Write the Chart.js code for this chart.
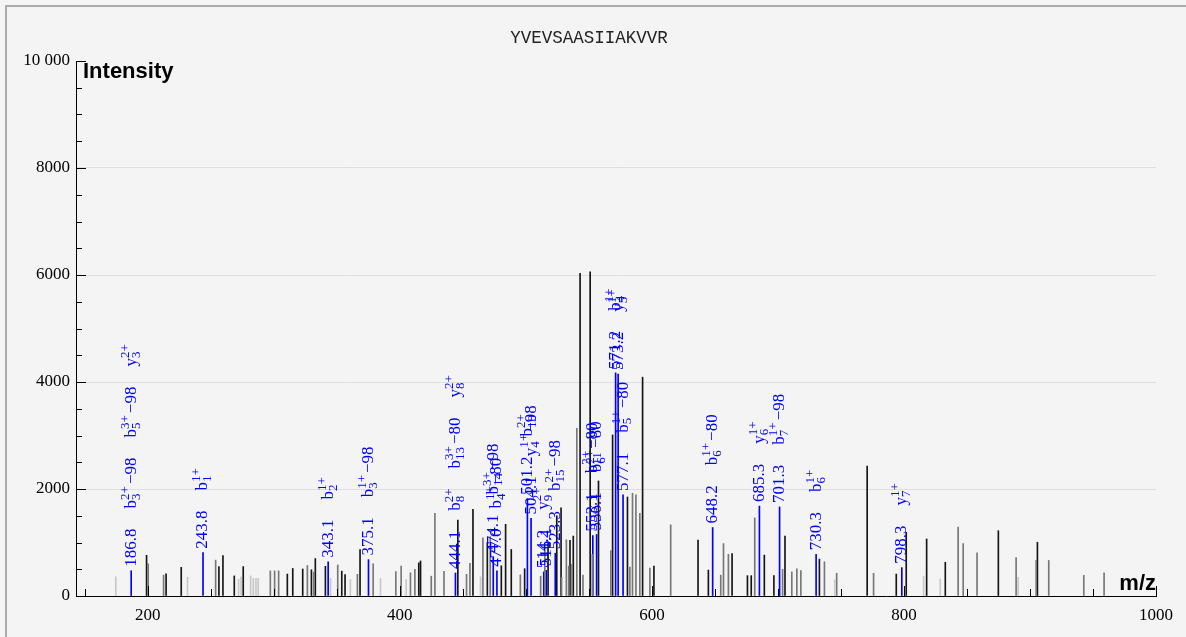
<!DOCTYPE html>
<html lang="en">
<head>
  <meta charset="UTF-8" />
  <title>YVEVSAASIIAKVVR - espectro</title>
  <style>
    html, body { margin: 0; padding: 0; background: #f4f4f4; overflow: hidden; }
    .moldura { position: absolute; left: 5px; top: 5px; width: 1300px; height: 700px;
      border-left: 2px solid #ababab; border-top: 2px solid #ababab; }
    #espectro { position: absolute; left: 0; top: 0; }
  </style>
</head>
<body>
  <div class="moldura"></div>
  <canvas id="espectro" width="1186" height="637"></canvas>

  <script src="https://cdn.jsdelivr.net/npm/chart.js@4.4.0/dist/chart.umd.min.js"></script>
  <script>
  const peptide = 'YVEVSAASIIAKVVR';
  const xTicks = [200, 400, 600, 800, 1000];
  const yTicks = [0, 2000, 4000, 6000, 8000, 10000];

  // picos nao anotados, por tom de cinza
  const darkMz = [199.0, 214.5, 226.5, 256.4, 259.6, 268.6, 275.7, 310.7, 315.0, 322.9, 329.8, 332.9, 340.9,
    353.9, 356.5, 368.4, 415.0, 416.4, 446.0, 458.0, 469.4, 480.5, 483.9, 488.4, 499.0, 517.6, 524.5, 527.9,
    535.0, 537.6, 543.0, 551.0, 557.6, 568.8, 580.6, 592.6, 601.6, 636.6, 644.8, 663.6, 675.8, 678.8, 689.2,
    696.8, 705.6, 732.9, 770.8, 793.9, 801.8, 818.0, 832.8, 874.9, 905.9];
  const darkInt = [760, 415, 535, 550, 755, 375, 550, 410, 515, 505, 490, 700, 555,
    465, 400, 870, 620, 655, 1420, 1620, 1000, 565, 1340, 870, 510, 1000, 1500, 1650,
    1040, 1120, 6030, 6060, 2150, 3010, 1850, 4090, 560, 1045, 485, 795, 380, 380, 765,
    380, 1120, 690, 2430, 410, 1190, 1065, 630, 1220, 1005];

  const grayMz = [200.3, 212.5, 253.8, 297.2, 300.6, 303.8, 326.6, 331.6, 350.7, 366.3, 378.8, 396.8, 401.0,
    408.4, 411.9, 424.9, 427.8, 435.0, 452.9, 455.6, 465.9, 471.7, 495.6, 511.7, 515.0, 528.3, 532.1, 534.0,
    536.6, 540.4, 545.3, 552.7, 567.4, 582.5, 584.6, 587.3, 590.4, 598.4, 614.9, 654.6, 656.8, 660.7, 681.6,
    703.7, 711.0, 715.0, 718.2, 736.9, 746.6, 775.9, 843.0, 847.0, 858.0, 889.0, 904.9, 914.9, 942.7, 958.8];
  const grayInt = [600, 390, 670, 470, 470, 470, 570, 445, 580, 405, 600, 455, 560,
    435, 500, 370, 1545, 460, 405, 610, 1085, 1110, 395, 370, 860, 350, 1050, 560,
    590, 3135, 390, 780, 850, 540, 1920, 1890, 1545, 520, 1330, 390, 980, 780, 1460,
    500, 450, 510, 475, 640, 425, 425, 1290, 980, 805, 720, 665, 665, 385, 435];

  const lightMz = [174.6, 231.5, 272.0, 274.0, 281.6, 283.7, 285.8, 287.6, 345.0, 360.7, 384.6, 405.0, 464.0,
    745.2, 815.6, 828.8, 890.6];
  const lightInt = [360, 350, 315, 360, 375, 330, 330, 330, 330, 310, 330, 310, 360,
    300, 370, 320, 350];

  // picos anotados (azul)
  const matchedMz = [186.8, 243.8, 343.1, 375.1, 444.1, 474.1, 477.0, 501.2, 504.1, 514.2, 516.1, 523.3,
    553.1, 556.1, 571.2, 573.2, 577.1, 648.2, 685.3, 701.3, 730.3, 798.3];
  const matchedInt = [473, 810, 640, 680, 430, 735, 470, 1820, 1450, 450, 480, 800,
    1130, 1150, 4170, 4150, 1890, 1280, 1680, 1665, 780, 530];
  const matchedIons = [
    ['b3^2+−98', 'b5^3+−98', 'y3^2+'], ['b1^1+'], ['b2^1+'], ['b3^1+−98'],
    ['b8^2+', 'b13^3+−80', 'y8^2+'], ['b14^3+−98'], ['b4^1+−80'], ['b10^2+'], ['y4^1+−98'],
    ['y9^2+'], [], ['b15^2+−98'], ['b11^2+−80'], ['b6^2+−80'], ['b4^1+'], ['y5^1+'],
    ['b5^1+−80'], ['b6^1+−80'], ['y6^1+'], ['b7^1+−98'], ['b6^1+'], ['y7^1+']
  ];

  const fonteGrande = '17px "Liberation Serif"';
  const fontePequena = '13px "Liberation Serif"';

  function serie(mz, inten, cor) {
    return {
      data: mz.map((v, i) => ({ x: v, y: inten[i] })),
      backgroundColor: cor,
      borderWidth: 0,
      barThickness: 1,
      grouped: false
    };
  }

  function desenhaIon(ctx, ion, pos) {
    const m = ion.match(/^([a-z])(\d+)\^(\d\+)(.*)$/);
    ctx.font = fonteGrande;
    ctx.fillText(m[1], pos, 0);
    pos += ctx.measureText(m[1]).width;
    ctx.font = fontePequena;
    ctx.fillText(m[3], pos, -6);
    ctx.fillText(m[2], pos, 5);
    pos += Math.max(ctx.measureText(m[3]).width, ctx.measureText(m[2]).width);
    if (m[4]) {
      ctx.font = fonteGrande;
      pos += 2;
      ctx.fillText(m[4], pos, 0);
      pos += ctx.measureText(m[4]).width;
    }
    return pos;
  }

  // rotulos azuis verticais em cima dos picos anotados
  const rotulos = {
    id: 'rotulos',
    afterDatasetsDraw(chart) {
      const { ctx, scales: { x, y } } = chart;
      ctx.save();
      ctx.fillStyle = '#0000ff';
      ctx.textAlign = 'left';
      ctx.textBaseline = 'middle';
      matchedMz.forEach((mz, i) => {
        ctx.save();
        ctx.translate(x.getPixelForValue(mz), y.getPixelForValue(matchedInt[i]));
        ctx.rotate(-Math.PI / 2);
        ctx.font = fonteGrande;
        const txt = mz.toFixed(1);
        let pos = 4;
        ctx.fillText(txt, pos, 0);
        pos += ctx.measureText(txt).width + 20;
        matchedIons[i].forEach(ion => { pos = desenhaIon(ctx, ion, pos) + 20; });
        ctx.restore();
      });
      ctx.restore();
    }
  };

  // marcas dos eixos para dentro, titulo e nomes dos eixos
  const marcas = {
    id: 'marcas',
    afterDraw(chart) {
      const { ctx, chartArea: area, scales: { x, y } } = chart;
      ctx.save();
      ctx.strokeStyle = '#000';
      ctx.lineWidth = 1;
      ctx.beginPath();
      for (let v = 0; v <= 10000; v += 500) {
        const py = Math.round(y.getPixelForValue(v)) + 0.5;
        ctx.moveTo(area.left, py);
        ctx.lineTo(area.left + (v % 2000 === 0 ? 10 : 6), py);
      }
      for (let v = 150; v <= 1000; v += 50) {
        const px = Math.round(x.getPixelForValue(v)) + 0.5;
        ctx.moveTo(px, area.bottom);
        ctx.lineTo(px, area.bottom - (v % 200 === 0 ? 10 : 7));
      }
      ctx.stroke();

      ctx.fillStyle = '#222';
      ctx.font = '17.5px "Liberation Mono"';
      ctx.textAlign = 'center';
      ctx.textBaseline = 'middle';
      ctx.fillText(peptide, 589, 38);

      ctx.fillStyle = '#000';
      ctx.font = 'bold 22px "Liberation Sans"';
      ctx.textBaseline = 'alphabetic';
      ctx.textAlign = 'left';
      ctx.fillText('Intensity', area.left + 7, area.top + 17);
      ctx.textAlign = 'right';
      ctx.fillText('m/z', area.right, area.bottom - 6);
      ctx.restore();
    }
  };

  new Chart(document.getElementById('espectro'), {
    type: 'bar',
    data: {
      datasets: [
        serie(lightMz, lightInt, '#c8c8c8'),
        serie(grayMz, grayInt, '#777777'),
        serie(darkMz, darkInt, '#151515'),
        serie(matchedMz, matchedInt, '#0000ff')
      ]
    },
    options: {
      responsive: false,
      animation: false,
      events: [],
      layout: { padding: { left: 0, right: 30, top: 61, bottom: 0 } },
      plugins: {
        legend: { display: false },
        tooltip: { enabled: false },
        title: { display: false }
      },
      scales: {
        x: {
          type: 'linear',
          min: 143,
          max: 1000,
          offset: false,
          afterBuildTicks: s => { s.ticks = xTicks.map(v => ({ value: v })); },
          afterFit: s => { s.height = 41; },
          grid: { display: false, drawTicks: false, offset: false },
          border: { display: true, color: '#000', width: 1 },
          ticks: { color: '#000', padding: 9, maxRotation: 0,
            font: { family: '"Liberation Serif"', size: 17 },
            callback: v => String(v) }
        },
        y: {
          min: 0,
          max: 10000,
          afterBuildTicks: s => { s.ticks = yTicks.map(v => ({ value: v })); },
          afterFit: s => { s.width = 76; },
          grid: {
            drawTicks: false,
            color: c => (c.tick && c.tick.value > 0 && c.tick.value < 10000) ? '#dedede' : 'rgba(0,0,0,0)'
          },
          border: { display: true, color: '#000', width: 1 },
          ticks: {
            color: '#000', padding: 6,
            font: { family: '"Liberation Serif"', size: 17 },
            callback: v => v === 10000 ? '10 000' : String(v)
          }
        }
      }
    },
    plugins: [rotulos, marcas]
  });
  </script>
</body>
</html>
